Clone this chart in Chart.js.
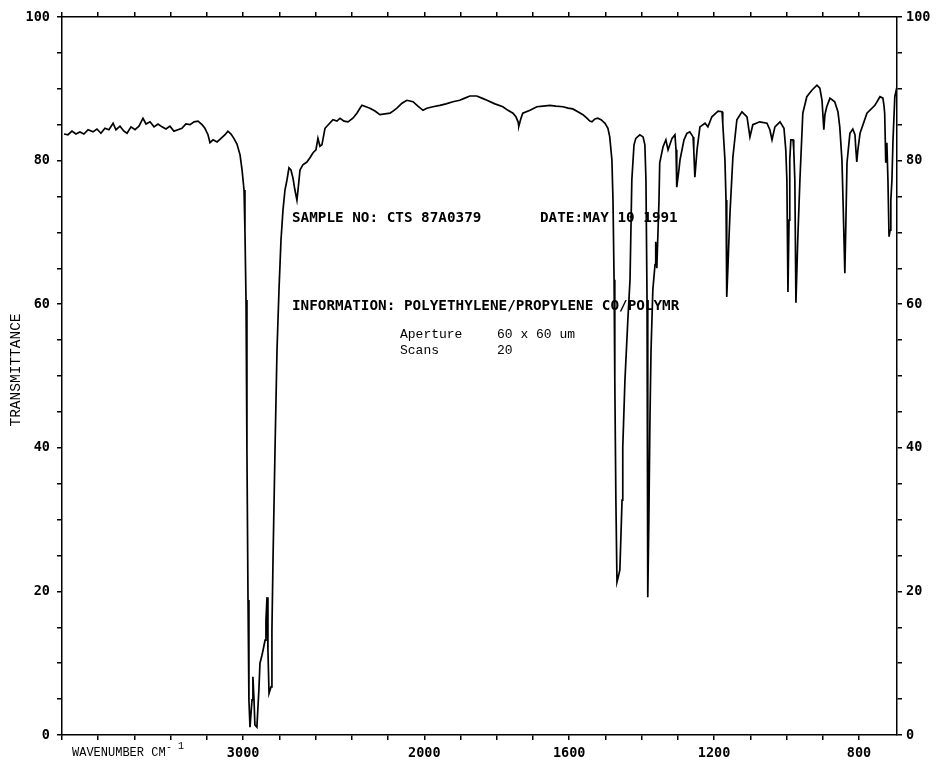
<!DOCTYPE html>
<html>
<head>
<meta charset="utf-8">
<title>IR spectrum - CTS 87A0379</title>
<script src="https://cdn.jsdelivr.net/npm/chart.js@4.4.0/dist/chart.umd.min.js"></script>
<style>
  html, body { margin: 0; padding: 0; background: #fff; }
  #wrap { width: 940px; height: 761px; }
</style>
</head>
<body>
<div id="wrap"><canvas id="irChart" width="940" height="761"></canvas></div>
<script>
// trace: wavenumber (cm-1) and transmittance (%)
const wavenumbers = [
    3989, 3967, 3945, 3923, 3901, 3879, 3856, 3829, 3807, 3785,
    3763, 3741, 3718, 3702, 3680, 3658, 3641, 3619, 3597, 3575,
    3553, 3536, 3514, 3492, 3470, 3448, 3426, 3404, 3382, 3360,
    3338, 3316, 3293, 3271, 3249, 3227, 3211, 3194, 3183, 3166,
    3144, 3122, 3100, 3084, 3067, 3051, 3034, 3017, 3006, 2995,
    2990, 2984, 2979, 2973, 2968, 2962, 2951, 2946, 2940, 2935,
    2924, 2913, 2907, 2896, 2890, 2879, 2874, 2868, 2863, 2857,
    2846, 2841, 2835, 2824, 2813, 2802, 2791, 2780, 2769, 2758,
    2747, 2736, 2725, 2714, 2703, 2697, 2686, 2670, 2648, 2631,
    2614, 2598, 2587, 2576, 2565, 2548, 2526, 2504, 2482, 2465,
    2443, 2421, 2394, 2372, 2355, 2344, 2322, 2300, 2272, 2245,
    2217, 2189, 2167, 2151, 2123, 2096, 2079, 2062, 2035, 2007,
    1993, 1976, 1957, 1940, 1921, 1902, 1888, 1874, 1855, 1841,
    1827, 1805, 1783, 1769, 1755, 1747, 1741, 1739, 1733, 1728,
    1708, 1689, 1672, 1653, 1637, 1617, 1603, 1590, 1576, 1562,
    1551, 1543, 1537, 1529, 1521, 1512, 1501, 1493, 1488, 1482,
    1479, 1476, 1474, 1471, 1468, 1465, 1460, 1454, 1452, 1446,
    1438, 1432, 1427, 1421, 1416, 1405, 1396, 1391, 1388, 1385,
    1383, 1380, 1377, 1374, 1369, 1363, 1361, 1358, 1352, 1350,
    1341, 1333, 1327, 1316, 1308, 1305, 1303, 1297, 1294, 1283,
    1275, 1267, 1258, 1256, 1253, 1247, 1239, 1225, 1217, 1206,
    1189, 1178, 1176, 1170, 1167, 1165, 1162, 1159, 1156, 1148,
    1137, 1123, 1109, 1101, 1093, 1074, 1054, 1046, 1040, 1032,
    1018, 1007, 1002, 999, 996, 993, 991, 988, 982, 980,
    977, 974, 969, 963, 955, 944, 930, 916, 908, 902,
    897, 894, 889, 880, 867, 858, 853, 847, 844, 839,
    836, 833, 825, 817, 811, 809, 806, 803, 797, 778,
    756, 742, 734, 731, 729, 726, 723, 720, 717, 714,
    712, 709, 706, 701, 695
];
const transmittance = [
    83.7, 83.6, 84.1, 83.7, 84.0, 83.7, 84.3, 84.0, 84.4, 83.8,
    84.5, 84.3, 85.2, 84.3, 84.8, 84.1, 83.8, 84.7, 84.3, 84.8,
    85.9, 85.1, 85.4, 84.7, 85.1, 84.7, 84.4, 84.8, 84.1, 84.3,
    84.5, 85.1, 85.0, 85.4, 85.5, 85.0, 84.5, 83.6, 82.5, 82.9,
    82.6, 83.1, 83.6, 84.1, 83.7, 83.1, 82.3, 80.8, 78.7, 75.9,
    70.3, 60.6, 39.7, 18.8, 4.9, 1.1, 4.9, 8.1, 4.9, 1.4,
    1.1, 6.3, 10.0, 11.1, 11.8, 13.2, 16.0, 19.2, 11.8, 5.8,
    6.7, 14.6, 24.4, 39.7, 53.6, 62.0, 68.9, 73.1, 75.9, 77.3,
    79.0, 78.7, 77.6, 75.9, 74.5, 75.9, 78.7, 79.4, 79.8, 80.4,
    81.1, 81.5, 83.1, 82.0, 82.2, 84.5, 85.1, 85.7, 85.5, 85.9,
    85.5, 85.4, 85.9, 86.6, 87.3, 87.7, 87.5, 87.3, 86.9, 86.4,
    86.5, 86.6, 87.0, 87.3, 88.0, 88.4, 88.3, 88.2, 87.6, 87.0,
    87.3, 87.5, 87.7, 87.9, 88.2, 88.4, 88.7, 89.0, 89.0, 88.7,
    88.4, 87.9, 87.5, 87.0, 86.6, 86.1, 85.4, 84.8, 85.9, 86.6,
    87.0, 87.5, 87.6, 87.7, 87.6, 87.5, 87.3, 87.2, 86.8, 86.4,
    85.9, 85.5, 85.4, 85.8, 85.9, 85.7, 85.2, 84.5, 83.3, 80.1,
    74.5, 63.4, 49.4, 32.7, 21.3, 21.9, 23.0, 32.7, 40.1, 49.4,
    57.8, 63.4, 77.3, 82.2, 83.1, 83.6, 83.3, 82.2, 77.3, 60.6,
    19.2, 29.9, 43.9, 53.6, 62.0, 65.5, 68.7, 65.0, 74.5, 79.7,
    81.9, 82.9, 81.5, 83.1, 83.6, 81.5, 76.3, 78.7, 80.1, 82.9,
    83.8, 84.0, 83.3, 81.5, 77.7, 81.5, 84.7, 85.2, 84.7, 86.1,
    86.9, 86.8, 85.2, 80.1, 74.5, 61.0, 64.8, 68.9, 72.7, 80.5,
    85.7, 86.8, 86.1, 83.3, 85.0, 85.4, 85.2, 84.3, 82.9, 84.7,
    85.4, 84.5, 81.5, 77.3, 61.7, 71.7, 80.1, 82.9, 82.9, 81.5,
    77.3, 60.2, 68.9, 77.3, 86.6, 88.9, 89.8, 90.5, 90.1, 88.4,
    84.3, 86.4, 87.5, 88.7, 88.2, 86.8, 84.7, 80.1, 74.5, 64.3,
    71.7, 79.7, 83.8, 84.4, 83.6, 81.9, 79.8, 81.5, 83.8, 86.6,
    87.7, 88.9, 88.7, 87.7, 86.6, 79.7, 82.5, 77.3, 69.4, 70.3,
    74.5, 77.3, 82.9, 88.9, 90.3
];

// axis ticks (wavenumber) and labelled values
const xTickWavenumbers = [4000, 3800, 3600, 3400, 3200, 3000, 2800, 2600, 2400, 2200, 2000,
    1900, 1800, 1700, 1600, 1500, 1400, 1300, 1200, 1100, 1000, 900, 800];
const xLabelWavenumbers = [3000, 2000, 1600, 1200, 800];
const yLabelValues = [0, 20, 40, 60, 80, 100];
const xStart = 4000;
const xEnd = 695;

const sampleText = 'SAMPLE NO: CTS 87A0379';
const dateText = 'DATE:MAY 10 1991';
const infoText = 'INFORMATION: POLYETHYLENE/PROPYLENE CO/POLYMR';
const detailRows = [['Aperture', '60 x 60 um'], ['Scans', '20']];

const plotFont = '"DejaVu Sans Mono", monospace';
const typeFont = '"Liberation Mono", "DejaVu Sans Mono", monospace';

// the instrument scale is compressed 2:1 above 2000 cm-1
function toAxis(w) {
    return w >= 2000 ? (4000 - w) / 2 : 1000 + (2000 - w);
}

function fromAxis(u) {
    return u <= 1000 ? 4000 - 2 * u : 3000 - u;
}

function setWavenumberTicks(scale) {
    scale.ticks = xTickWavenumbers.map(w => ({ value: toAxis(w) }));
}

const notesPlugin = {
    id: 'notes',
    beforeDatasetsDraw(chart) {
        const ctx = chart.ctx;
        ctx.save();
        ctx.fillStyle = '#000';
        ctx.textBaseline = 'alphabetic';
        ctx.textAlign = 'left';

        ctx.font = 'bold 14.3px ' + plotFont;
        ctx.fillText(sampleText, 292, 222);
        ctx.fillText(dateText, 540, 222);
        ctx.fillText(infoText, 292, 310);

        ctx.font = '13px ' + typeFont;
        detailRows.forEach((row, i) => {
            ctx.fillText(row[0], 400, 338 + i * 16);
            ctx.fillText(row[1], 497, 338 + i * 16);
        });

        // axis titles
        ctx.font = '12px ' + typeFont;
        ctx.fillText('WAVENUMBER CM', 72, 756);
        ctx.font = '10px ' + typeFont;
        ctx.fillText('-', 166, 750);
        ctx.fillText('1', 178, 749);

        ctx.translate(20, 370);
        ctx.rotate(-Math.PI / 2);
        ctx.textAlign = 'center';
        ctx.font = '14.5px ' + typeFont;
        ctx.fillText('TRANSMITTANCE', 0, 0);
        ctx.restore();
    }
};

document.addEventListener("DOMContentLoaded", function () {
    const points = wavenumbers.map((w, i) => ({ x: toAxis(w), y: transmittance[i] }));

    const tickFont = { family: plotFont, size: 13.5, weight: 'bold' };
    const gridStyle = { drawOnChartArea: false, drawTicks: true, tickLength: 5, color: '#000', lineWidth: 1.5 };
    const borderStyle = { display: true, color: '#000', width: 1.5 };

    const yLabel = value => yLabelValues.includes(value) ? String(value) : '';
    const xLabel = value => {
        const w = Math.round(fromAxis(value));
        return xLabelWavenumbers.includes(w) ? String(w) : '';
    };

    const ctx = document.getElementById('irChart').getContext('2d');
    new Chart(ctx, {
        type: 'line',
        data: {
            datasets: [{
                data: points,
                borderColor: '#000',
                borderWidth: 1.7,
                pointRadius: 0,
                tension: 0,
                fill: false
            }]
        },
        options: {
            responsive: false,
            animation: false,
            devicePixelRatio: 1,
            parsing: false,
            layout: { padding: 0 },
            plugins: {
                legend: { display: false },
                tooltip: { enabled: false }
            },
            scales: {
                x: {
                    type: 'linear',
                    position: 'bottom',
                    min: toAxis(xStart),
                    max: toAxis(xEnd),
                    afterBuildTicks: setWavenumberTicks,
                    afterFit: scale => { scale.height = 26; },
                    grid: gridStyle,
                    border: borderStyle,
                    ticks: { color: '#000', font: tickFont, padding: 5, autoSkip: false, maxRotation: 0, callback: xLabel }
                },
                x2: {
                    type: 'linear',
                    position: 'top',
                    min: toAxis(xStart),
                    max: toAxis(xEnd),
                    afterBuildTicks: setWavenumberTicks,
                    afterFit: scale => { scale.height = 17; },
                    grid: gridStyle,
                    border: borderStyle,
                    ticks: { display: false }
                },
                y: {
                    position: 'left',
                    min: 0,
                    max: 100,
                    afterFit: scale => { scale.width = 62; },
                    grid: gridStyle,
                    border: borderStyle,
                    ticks: { stepSize: 5, color: '#000', font: tickFont, padding: 7, autoSkip: false, callback: yLabel }
                },
                y2: {
                    position: 'right',
                    min: 0,
                    max: 100,
                    afterFit: scale => { scale.width = 43; },
                    grid: gridStyle,
                    border: borderStyle,
                    ticks: { stepSize: 5, color: '#000', font: tickFont, padding: 4, autoSkip: false, callback: yLabel }
                }
            }
        },
        plugins: [notesPlugin]
    });
});
</script>
</body>
</html>
